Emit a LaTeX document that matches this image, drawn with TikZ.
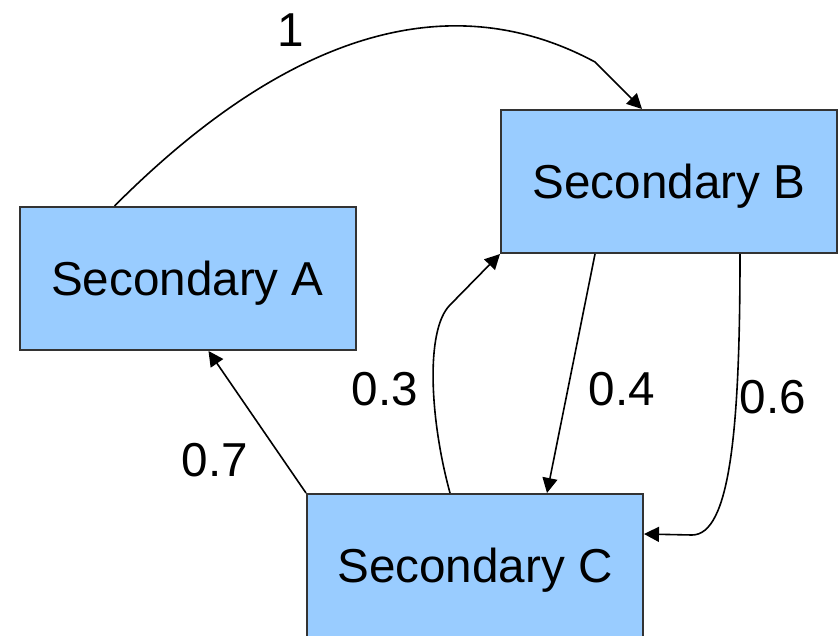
\documentclass[tikz,border=0pt]{standalone}
\usepackage{fontspec}
\setmainfont{Liberation Sans}
\usetikzlibrary{arrows.meta}

\begin{document}
\begin{tikzpicture}[x=0.5pt, y=-0.5pt, >={Triangle[length=7.5pt,width=7.5pt]},
    state/.style={draw=black!80, line width=1pt, fill=boxblue, rectangle,
      minimum width=168pt, minimum height=71.5pt, inner sep=0pt,
      text height=17pt, text depth=0pt},
    link/.style={->, line width=0.8pt},
    prob/.style={inner sep=0pt}]
  \definecolor{boxblue}{RGB}{153,204,255}
  \fontsize{23.8pt}{28pt}\selectfont

  \useasboundingbox (0,0) rectangle (840,636);

  \node[state] (secA) at (187.5,278.5) {Secondary A};
  \node[state] (secB) at (669,181.5) {Secondary B};
  \node[state] (secC) at (475,565.5) {Secondary C};

  \coordinate (kinkAB) at (595,62);
  \coordinate (kinkCB) at (450,305);
  \coordinate (kinkBC) at (692,535);

  \draw[link] ([xshift=48pt]secA.north west) .. controls (320,0) and (480,0) .. (kinkAB)
    -- ([xshift=71pt]secB.north west);
  \draw[link] (secC.north west) -- ([xshift=95pt]secA.south west);
  \draw[link] ([xshift=72pt]secC.north west) .. controls (430,420) and (425,330) .. (kinkCB)
    -- (secB.south west);
  \draw[link] ([xshift=47.5pt]secB.south west) -- ([xshift=120.5pt]secC.north west);
  \draw[link] ([xshift=120pt]secB.south west) .. controls (740,430) and (730,535) .. (kinkBC)
    -- ([yshift=-20.5pt]secC.north east);

  \node[prob] (pAB) at (291,30) {1};
  \node[prob] (pCA) at (215,460) {0.7};
  \node[prob] (pCB) at (385,389) {0.3};
  \node[prob] (pBC) at (622,389) {0.4};
  \node[prob] (pBCb) at (773,397) {0.6};
\end{tikzpicture}
\end{document}
